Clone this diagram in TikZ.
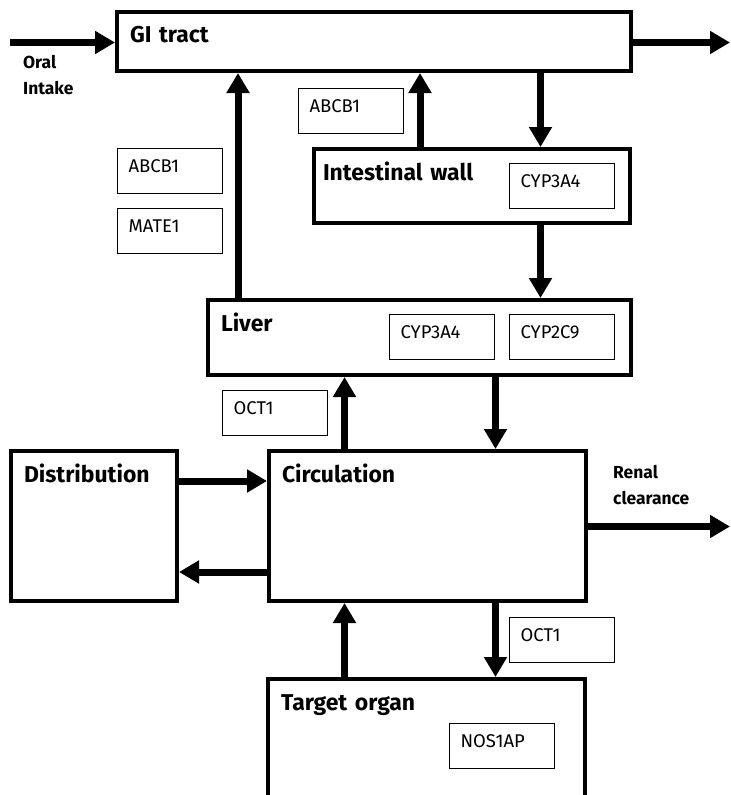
\documentclass[tikz,border=0pt]{standalone}
\usepackage{fontspec}
\setmainfont{Fira Sans}
\usetikzlibrary{arrows.meta}

\begin{document}
\begin{tikzpicture}[
        x=1bp, y=-1bp,
        organ/.style={draw=black, line width=4bp, inner xsep=13bp, inner ysep=0pt,
            text height=31bp, align=left, anchor=north west,
            font=\fontsize{23}{27}\selectfont\bfseries},
        enz/.style={draw=black, line width=1.3bp, inner xsep=11bp, inner ysep=0pt,
            text width=83bp, text height=24bp, text depth=21bp, align=left,
            anchor=north west, font=\fontsize{18.5}{21}\selectfont},
        flow/.style={draw=black, line width=7bp, -{Triangle[length=20bp,width=22bp]}},
        lbl/.style={inner sep=0pt, anchor=north west, align=left,
            font=\fontsize{17.5}{26}\selectfont\bfseries}
    ]
    \useasboundingbox (0,0) rectangle (731,795);

    % ================= compartments =========================
    \node[organ, text width=488bp, text depth=28bp] (gi) at (115,10) {GI tract};
    \node[organ, inner xsep=9bp, text width=298bp, text depth=43bp] (intw) at (312,147) {Intestinal wall};
    \node[organ, text width=397bp, text depth=44bp] (liver) at (206,298) {Liver};
    \node[organ, text width=140bp, text depth=119bp] (dist) at (9,449) {Distribution};
    \node[organ, text width=291bp, text depth=119bp] (circ) at (267,449) {Circulation};
    \node[organ, text width=291bp, text depth=118bp] (target) at (266,677) {Target organ};

    % ================= transporters / enzymes ===============
    \node[enz] (abcbG) at (298,88) {ABCB1};
    \node[enz] (abcbL) at (117,148) {ABCB1};
    \node[enz] (mate) at (117,208) {MATE1};
    \node[enz] (cypI) at (509,163) {CYP3A4};
    \node[enz] (cypL) at (389,314) {CYP3A4};
    \node[enz] (cyp2c9) at (509,314) {CYP2C9};
    \node[enz] (octL) at (222,390) {OCT1};
    \node[enz] (octT) at (509,617) {OCT1};
    \node[enz] (nos) at (449,723) {NOS1AP};

    % ================= in / out =============================
    \coordinate (oral) at (10,42.5);
    \coordinate (feces) at (730,42.5);
    \coordinate (urine) at (730,526.5);
    \node[lbl] (oraltxt) at (23,55) {Oral\\Intake};
    \node[lbl] (renaltxt) at (613,465) {Renal\\clearance};

    % columns and rows of the arrows
    \coordinate (cBile) at (238,0);
    \coordinate (cEfflux) at (420,0);
    \coordinate (cAbs) at (540.5,0);
    \coordinate (cUp) at (344.5,0);
    \coordinate (cDown) at (495.5,0);
    \coordinate (rIn) at (0,481);
    \coordinate (rOut) at (0,572);

    % ================= flows ================================
    \draw[flow] (oral) -- (oral -| gi.west);
    \draw[flow] (gi.east |- feces) -- (feces);
    \draw[flow] (liver.north -| cBile) -- (gi.south -| cBile);
    \draw[flow] (intw.north -| cEfflux) -- (gi.south -| cEfflux);
    \draw[flow] (gi.south -| cAbs) -- (intw.north -| cAbs);
    \draw[flow] (intw.south -| cAbs) -- (liver.north -| cAbs);
    \draw[flow] (circ.north -| cUp) -- (liver.south -| cUp);
    \draw[flow] (liver.south -| cDown) -- (circ.north -| cDown);
    \draw[flow] (dist.east |- rIn) -- (circ.west |- rIn);
    \draw[flow] (circ.west |- rOut) -- (dist.east |- rOut);
    \draw[flow] (circ.east |- urine) -- (urine);
    \draw[flow] (target.north -| cUp) -- (circ.south -| cUp);
    \draw[flow] (circ.south -| cDown) -- (target.north -| cDown);
\end{tikzpicture}
\end{document}
